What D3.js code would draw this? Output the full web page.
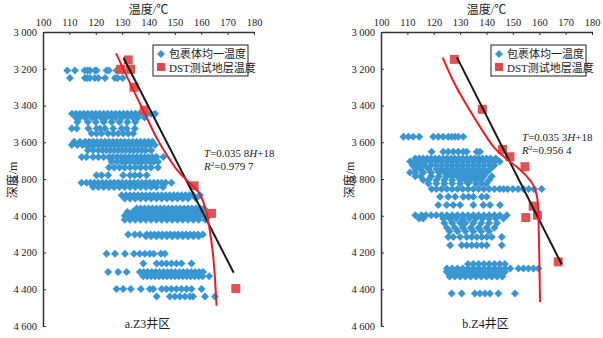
<!DOCTYPE html>
<html>
<head>
<meta charset="utf-8">
<script src="https://cdn.jsdelivr.net/npm/d3@7/dist/d3.min.js"></script>
<style>
  html, body { margin: 0; padding: 0; background: #fff; }
  svg { display: block; }
  text { font-family: "Times New Roman", "Liberation Serif", "Noto Sans CJK SC", serif; fill: #222; }
</style>
</head>
<body>
<div id="chart"></div>
<script>
// 温度 / 深度 刻度
const tempTicks = [100, 110, 120, 130, 140, 150, 160, 170, 180];
const depthTicks = [3000, 3200, 3400, 3600, 3800, 4000, 4200, 4400, 4600];

// a.Z3井区 — 包裹体均一温度 (深度, 温度列表)
const incA = [
  [3210, [109.2,112.1,115.8,116.9,117.8,119.7,120.3,124.1,125.0,127.9,128.9,130.2]],
  [3250, [110.2,115.9,116.8,117.8,119.7,121.0,123.5,127.3,128.3,130.2]],
  [3445, [111,112.5,114,115.5,117,118.5,120,121.5,123,124.5,126,127.5,129,130.5,132,133.5,135,136.5,138,139.5,141,142.5]],
  [3465, [112.5,114,116,118.5,120,122,124,126,127.5,130,132,134,136,138.5]],
  [3490, [113,117,120,123,126,129,132,135]],
  [3525, [110.9,112.8,117.2,120.3,121.6,123.5,126.6,129.8,131.7,134.8]],
  [3552, [118.4,120.3,122.2,124.7,126.6,128.5,130.4,132.3,134.2]],
  [3597, [111.8,114,116,117.5,119,120.5,122,123.5,125,126.5,128,129.5,131,132.5,134,135.5,137,138.5,140,141.5]],
  [3615, [110.9,113,115,116.5,118,119.5,121,122.5,124,125.5,127,128.5,130,131.5,133,134.5,136,137.5,139,140.5,142.4]],
  [3643, [117,119,121,122.5,124,125.5,127,128.5,130,131.5,133,134.5,136,137.5,139,141]],
  [3680, [114.7,116.5,119,121,123,125,126.5,128,129.5,131,132.5,134,135.5,137,138.5,140,141.5,143,145.6]],
  [3706, [126,128,130,131.5,133,134.5,136,137.5,139,140.5,142,143.6]],
  [3737, [125,127,129,131,133,135,137,139,141,143.6]],
  [3779, [120.3,122.2,124.7,130.4,133.0,134.8,136.7,139.3]],
  [3820, [114.6,116.5,118,119.5,121,122.5,124,125.5,127,128.5,130,131.5,133,134.5,136,137.5,139,140.5,142,143.5,145,146.5,148.7]],
  [3843, [119,121,123,125,127,129,131,133,135,137,139,141,143,145.5]],
  [3888, [129.8,131.5,133,134.5,136,137.5,139,140.5,142,143.5,145,146.5,148,149.5,151,152.5,154,155.5,157,159.5]],
  [3906, [131,133,135,137,139,141,143,145,147,149,151,153,155,158]],
  [3960, [135.5,137,138.5,140,141.5,143,144.5,146,147.5,149,150.5,152,153.5,155,156.5,158,159.5,161]],
  [3980, [132,134,136,138,140,142,144,146,148,150,152,154,156,158,160]],
  [4000, [131,132.5,134,135.5,137,138.5,140,141.5,143,144.5,146,147.5,149,150.5,152,153.5,155,156.5,158,159.5,161,163]],
  [4022, [131,133,135,137,139,141,143,145,147,149,151,153,155,157,159,161.5]],
  [4102, [132.3,134.8,136.7,139.3,140.8,142.3,143.8,145.3,146.8,148.3,149.8,151.3,152.8,154.3,155.8,157.3,158.8,160.6]],
  [4112, [139,141,143,145,147,149,151,153,155,157,159]],
  [4207, [124.1,127.3,131.1,134.5,136.7,138.6,140.5,142.0,144.7,146.2]],
  [4260, [138,143.1,145,146.8,148.7,150.6,152.5,156.3]],
  [4306, [124.7,128.5,131.7,136.7,138.2,139.7,141.2,142.7,144.2,145.7,147.2,148.7,150.2,151.7,153.2,154.7,156.2,157.7,159.2,160.7]],
  [4329, [138,139.5,141,142.5,144,145.5,147,148.5,150,151.5,153,154.5,156,157.5,159,160.5,163]],
  [4398, [127.9,130.4,133.3,137.1,140.5,141.8,145,146.8,148.7,150.6,152.5,154.4,156.3,160.1]],
  [4440, [143.1,148.1,150,151.9,153.8,155.7,156.9,161.4,165.2]]
];

// b.Z4井区 — 包裹体均一温度
const incB = [
  [3570, [108.5,110.4,112.2,114.5,119.8,121.7,123.6,125.5,126.8,128.1,129.3,131.2]],
  [3652, [119.2,123.6,125.5,127.4,129.3,131.2,132.5,136.3,137.5]],
  [3688, [113,114.5,116,117.5,119,120.5,122,123.5,125,126.5,128,129.5,131,132.5,134,135.5,137,138.5,140,141.5,143.5]],
  [3705, [111,113,115,117,119,121,123,125,127,129,131,133,135,137,139,141,143,145]],
  [3725, [112,114,116.5,119,121,123,125,127,129,131,133,135,137,139,141,143]],
  [3745, [113,115,118,121,123,125,127,129,131,133,135,137,139,141.5]],
  [3765, [111,113,116,119,122,124,126,128,130,132,134,136,138,140]],
  [3785, [113,115,119,122,125,127,129,131,133,135,137,139,142]],
  [3805, [116,118,121,124,127,130,132,134,136,138,141]],
  [3825, [118,121,124,127,130,133,136,138,140]],
  [3855, [119.2,121,123,125,127,129,131,133,135,137,139,141,143,145,146.5,148,150,152,154,156,158,160.9]],
  [3897, [122.4,125.5,128.1,131.2,133.2,135,138.2,140.1]],
  [3942, [121.7,124.9,127.4,130,135,138.8,141.3,145.1]],
  [3997, [113,115.4,117,119,121,123,125,127,129,131,133,135,137,139,141,143,145,147.7]],
  [4015, [114.5,116,123.6,126,128.5,131,133.5,136,138.5,141,143.5,146.4]],
  [4040, [124,127,130,132,135,138,141,144]],
  [4065, [125,128,131,134,137,140,143]],
  [4085, [126,129,132,135,138,141]],
  [4115, [125.5,127.4,130,132.5,134.4,136.3,138.2,140.1,142,145.8]],
  [4160, [126.2,130.6,132.5,134.4,136.3,138.2,140.1,145.8]],
  [4262, [133,135,137,139,141,143,145,147]],
  [4287, [125,127,129,131,133,135,137,139,141,143,145,147,149,152.1,154,155.9,157.8,159.7]],
  [4305, [124.9,127,129,131,133,135,137,139,141,143,145,147]],
  [4330, [126,128,130,132,134,136,138,140,142,144,146]],
  [4423, [126.8,130.6,135.6,137.5,139.4,141.3,144.5,150.8]]
];

// DST测试地层温度 [温度, 深度]
const dstA = [[132.3,3152],[129.4,3203],[133.2,3203],[134.5,3301],[138.4,3425],[157.3,3837],[163.9,3987],[173.1,4396]];
const dstB = [[127.8,3149],[138.4,3421],[146.1,3639],[148.9,3679],[154.6,3733],[157.7,3948],[154.9,4010],[159.3,3997],[167.2,4251]];

// 线性拟合端点 [温度, 深度]
const fitA = [[130.5,3140],[172.3,4310]];
const fitB = [[128.8,3138],[168.5,4264]];

// 红色趋势曲线 [温度, 深度]
const curveA = [[127.7,3116],[132,3250],[138,3425],[143.7,3600],[147.5,3680],[150.5,3750],[155,3815],[159.5,3870],[161.5,3950],[163,4050],[164.5,4200],[165.3,4350],[165.8,4490]];
const curveB = [[123.4,3140],[127,3260],[131.2,3370],[137.5,3516],[143,3640],[147.5,3690],[151.5,3733],[155,3780],[158,3830],[159.5,3900],[159.7,4000],[160,4200],[160.3,4470]];

const legendLabels = ['包裹体均一温度', 'DST测试地层温度'];

const COLORS = {
  inclusion: '#3896d2',
  dst: '#dc4a4c',
  curve: '#ec1c24',
  fit: '#1a1a1a',
  axis: '#333'
};

const W = 603, H = 338;
const svg = d3.select('#chart').append('svg').attr('width', W).attr('height', H);

const panels = [
  { x0: 43, x1: 254, inc: incA, dst: dstA, fit: fitA, curve: curveA,
    eq: ['0.035 8', '0.979 7'], eqX: 204, eqY: 157, caption: 'a.Z3井区',
    legendX: 153, yTitleX: 13 },
  { x0: 381, x1: 592, inc: incB, dst: dstB, fit: fitB, curve: curveB,
    eq: ['0.035 3', '0.956 4'], eqX: 522, eqY: 141, caption: 'b.Z4井区',
    legendX: 491, yTitleX: 350 }
];

const yTop = 32, yBot = 326;
const diamond = 'M0,-4L4,0L0,4L-4,0Z';

panels.forEach((p) => {
  const x = d3.scaleLinear().domain([100, 180]).range([p.x0, p.x1]);
  const y = d3.scaleLinear().domain([3000, 4600]).range([yTop, yBot]);
  const g = svg.append('g');

  // 坐标轴
  const xAxis = g.append('g')
    .attr('transform', `translate(0,${yTop})`)
    .call(d3.axisTop(x).tickValues(tempTicks).tickSizeInner(-3).tickSizeOuter(0).tickPadding(6));
  const yAxis = g.append('g')
    .attr('transform', `translate(${p.x0},0)`)
    .call(d3.axisLeft(y).tickValues(depthTicks).tickSizeInner(-3).tickSizeOuter(0).tickPadding(6)
      .tickFormat((d) => d3.format(',')(d).replace(',', ' ')));
  [xAxis, yAxis].forEach((a) => {
    a.select('.domain').attr('stroke', COLORS.axis).attr('stroke-width', 1.5);
    a.selectAll('.tick line').attr('stroke', COLORS.axis);
    a.selectAll('.tick text').attr('font-size', 10.5).attr('font-family', '"Times New Roman","Liberation Serif",serif').attr('fill', '#222');
  });

  // 轴标题
  g.append('text').attr('x', (p.x0 + p.x1) / 2).attr('y', 14)
    .attr('text-anchor', 'middle').attr('font-size', 12).text('温度/℃');
  g.append('text')
    .attr('transform', `translate(${p.yTitleX + 4},180) rotate(-90)`)
    .attr('text-anchor', 'middle').attr('font-size', 12).text('深度/m');

  // 包裹体散点
  const pts = [];
  p.inc.forEach(([d, temps]) => temps.forEach((t) => pts.push([t, d])));
  g.append('g').selectAll('path').data(pts).join('path')
    .attr('d', diamond)
    .attr('transform', (d) => `translate(${x(d[0])},${y(d[1])})`)
    .attr('fill', COLORS.inclusion);

  // DST 方块
  g.append('g').selectAll('rect').data(p.dst).join('rect')
    .attr('x', (d) => x(d[0]) - 4.5).attr('y', (d) => y(d[1]) - 4.5)
    .attr('width', 9).attr('height', 9)
    .attr('fill', COLORS.dst).attr('opacity', 0.95);

  // 拟合直线
  const line = d3.line().x((d) => x(d[0])).y((d) => y(d[1]));
  g.append('path').datum(p.fit).attr('d', line)
    .attr('fill', 'none').attr('stroke', COLORS.fit).attr('stroke-width', 2);

  // 红色曲线
  g.append('path').datum(p.curve).attr('d', line.curve(d3.curveBasis))
    .attr('fill', 'none').attr('stroke', COLORS.curve).attr('stroke-width', 2);

  // 图例
  const lg = g.append('g').attr('transform', `translate(${p.legendX},45)`);
  lg.append('rect').attr('width', 95).attr('height', 31)
    .attr('fill', '#fff').attr('stroke', '#222').attr('stroke-width', 1);
  lg.append('path').attr('d', diamond).attr('transform', 'translate(8,9)').attr('fill', COLORS.inclusion);
  lg.append('rect').attr('x', 4).attr('y', 18).attr('width', 8).attr('height', 8).attr('fill', COLORS.dst);
  legendLabels.forEach((l, i) => {
    lg.append('text').attr('x', 16).attr('y', 13 + i * 14).attr('font-size', 11).text(l);
  });

  // 方程
  const eq1 = g.append('text').attr('x', p.eqX).attr('y', p.eqY).attr('font-size', 11);
  eq1.append('tspan').attr('font-style', 'italic').text('T');
  eq1.append('tspan').text('=' + p.eq[0]);
  eq1.append('tspan').attr('font-style', 'italic').text('H');
  eq1.append('tspan').text('+18');
  const eq2 = g.append('text').attr('x', p.eqX).attr('y', p.eqY + 13).attr('font-size', 11);
  eq2.append('tspan').attr('font-style', 'italic').text('R');
  eq2.append('tspan').attr('font-size', 7).attr('dy', -4).text('2');
  eq2.append('tspan').attr('dy', 4).text('=' + p.eq[1]);

  // 图注
  g.append('text').attr('x', (p.x0 + p.x1) / 2 - 1).attr('y', 328)
    .attr('text-anchor', 'middle').attr('font-size', 12).text(p.caption);
});
</script>
</body>
</html>
